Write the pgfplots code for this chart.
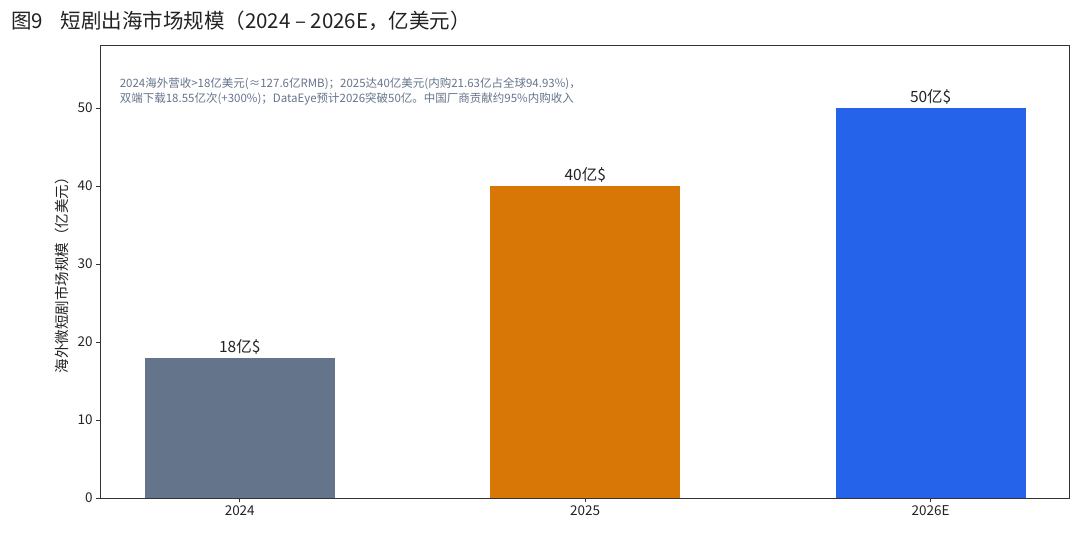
\documentclass[border=0pt]{standalone}
\usepackage{fontspec}
\setmainfont{Noto Sans CJK SC}
\usepackage{pgfplots}
\pgfplotsset{compat=1.18}
\definecolor{cA}{HTML}{64748B}
\definecolor{cB}{HTML}{D97706}
\definecolor{cC}{HTML}{2563EB}
\definecolor{axc}{HTML}{333333}
\definecolor{txt}{HTML}{222222}
\begin{document}
\begin{tikzpicture}[x=1pt,y=1pt]
\path[use as bounding box] (0,0) rectangle (1080,534);
\node[anchor=west,inner sep=0pt,text=txt,font=\fontsize{20.5}{24}\selectfont] at (11,513) {图9\hspace{0.85em}短剧出海市场规模（2024 – 2026E，亿美元）};
\begin{axis}[
  at={(100.7pt,36pt)}, anchor=south west,
  scale only axis, width=969pt, height=452.3pt,
  xmin=-0.4025, xmax=2.4025, ymin=0, ymax=58,
  ybar, bar width=0.55, /pgf/bar shift=0pt,
  xtick={0,1,2}, xticklabels={2024,2025,2026E},
  ytick={0,10,20,30,40,50},
  xtick pos=bottom, ytick pos=left,
  tick align=outside, major tick length=4.5pt,
  axis line style={axc, line width=0.9pt},
  every tick/.style={axc, line width=0.9pt},
  tick label style={text=txt, font=\fontsize{13.5}{15}\selectfont},
  /pgf/number format/assume math mode=true,
  ylabel={海外微短剧市场规模（亿美元）},
  ylabel style={at={(axis description cs:-0.0397,0.5)}, anchor=center, text=txt, font=\fontsize{14.5}{16}\selectfont},
  nodes near coords, point meta=explicit symbolic,
  every node near coord/.append style={text=txt, font=\fontsize{15.5}{17}\selectfont, anchor=south, yshift=0pt},
  clip=false,
]
\addplot[fill=cA, draw=none] coordinates {(0,18) [18亿\$]};
\addplot[fill=cB, draw=none] coordinates {(1,40) [40亿\$]};
\addplot[fill=cC, draw=none] coordinates {(2,50) [50亿\$]};
\node[anchor=north west, align=left, inner sep=0pt, text=cA, font=\fontsize{11.5}{15}\selectfont] at (rel axis cs:0.0195,0.93) {2024海外营收>18亿美元(≈127.6亿RMB)；2025达40亿美元(内购21.63亿占全球94.93\%)，\\双端下载18.55亿次(+300\%)；DataEye预计2026突破50亿。中国厂商贡献约95\%内购收入};
\end{axis}
\end{tikzpicture}
\end{document}
